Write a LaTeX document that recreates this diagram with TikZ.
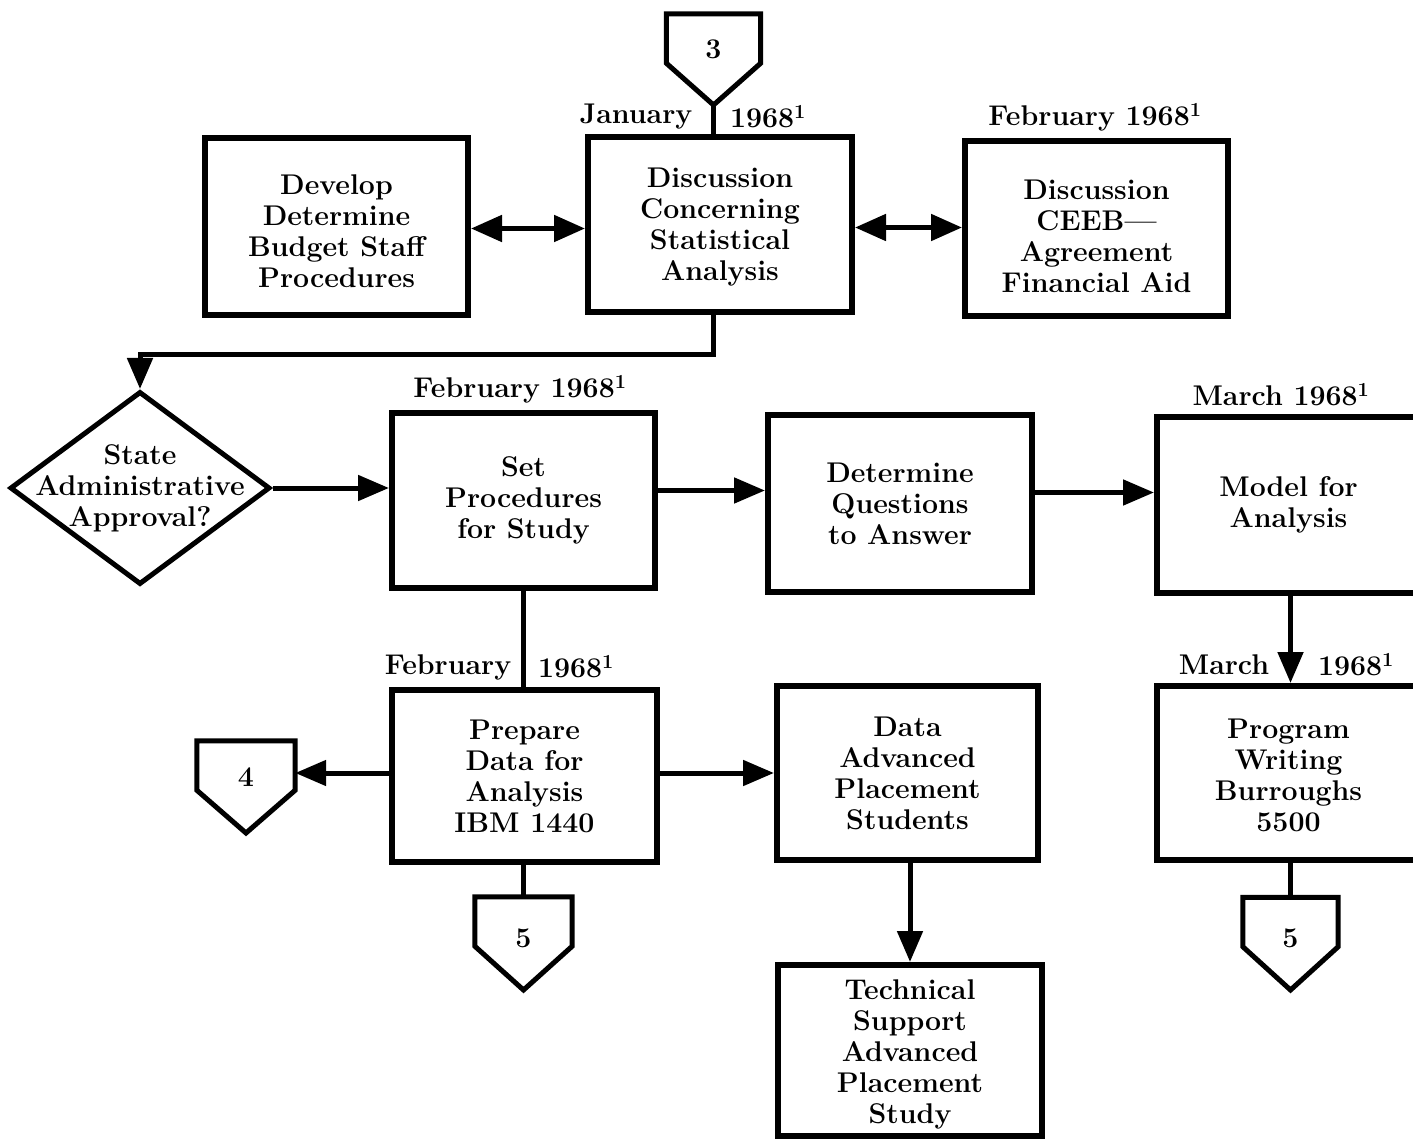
\documentclass[tikz,border=0pt]{standalone}
\usetikzlibrary{arrows.meta,shapes.geometric,calc}
\begin{document}
\begin{tikzpicture}[x=1pt,y=-1pt,
  every node/.style={font=\fontsize{28.5}{31}\selectfont\bfseries, align=center, inner sep=0pt},
  procbox/.style={draw, line width=6pt, minimum width=263pt, minimum height=175pt},
  decision/.style={draw, diamond, line width=5pt, minimum width=260pt, minimum height=193pt},
  offpage/.style={minimum width=94pt, minimum height=49pt},
  pent/.style={line width=5pt, line join=miter},
  flow/.style={line width=5pt},
  arrowline/.style={flow, -{Triangle[length=31pt,width=25pt]}},
  twoway/.style={flow, {Triangle[length=31pt,width=26pt]}-{Triangle[length=31pt,width=26pt]}},
  datelbl/.style={font=\fontsize{28.5}{30}\selectfont\bfseries},
  lowtext/.style={label={[yshift=-#1]center:{}}}
]
\useasboundingbox (0,0) rectangle (1413,1139);

% ---- top row ----
\node[offpage] (c3) at (713.5,38.5) {};
\coordinate (c3tip) at (713.5,105);
\draw[pent] (c3.north west) -- (c3.north east) -- (c3.south east) -- (c3tip) -- (c3.south west) -- cycle;
\node at ($(c3)+(0,11)$) {3};

\node[procbox, minimum width=263pt, minimum height=177pt,
      label={[yshift=-5pt]center:{Develop\\Determine\\Budget Staff\\Procedures}}] (dev) at (336.5,226.5) {};
\node[procbox, minimum width=264pt,
      label={[yshift=-3pt]center:{Discussion\\Concerning\\Statistical\\Analysis}}] (disc) at (720,224.5) {};
\node[procbox,
      label={[yshift=-8pt]center:{Discussion\\CEEB---\\Agreement\\Financial Aid}}] (ceeb) at (1096.5,228.5) {};

\node[datelbl] (janA) at (636,117) {January};
\node[datelbl] (janB) at (768,117) {1968\textsuperscript{1}};
\node[datelbl] (febA) at (1095,117) {February 1968\textsuperscript{1}};

% ---- middle row ----
\node[decision] (dia) at (140,488) {};
\node at (dia.center) {State\\Administrative\\Approval?};
\node[procbox] (set) at (523.5,500.5) {Set\\Procedures\\for Study};
\node[procbox, minimum width=264pt, minimum height=177pt] (detq) at (900,503.5)
  {Determine\\Questions\\to Answer};
\node[procbox, minimum height=176pt] (model) at (1288.5,505) {Model for\\Analysis};

\node[datelbl] (febB) at (520,389) {February 1968\textsuperscript{1}};
\node[datelbl] (marA) at (1281,395) {March 1968\textsuperscript{1}};

% ---- lower rows ----
\node[procbox, minimum width=265pt, minimum height=172pt] (prep) at (524.5,776)
  {Prepare\\Data for\\Analysis\\IBM 1440};
\node[procbox, minimum width=261pt, minimum height=174pt] (data) at (907.5,773)
  {Data\\Advanced\\Placement\\Students};
\node[procbox, minimum height=174pt,
      label={[yshift=-2pt]center:{Program\\Writing\\Burroughs\\5500}}] (prog) at (1288.5,773) {};
\node[procbox, minimum width=264pt, minimum height=171pt,
      label={[yshift=-4pt]center:{Technical\\Support\\Advanced\\Placement\\Study}}] (tech) at (910,1050.5) {};

\node[datelbl] (febC) at (448,667) {February};
\node[datelbl] (febD) at (576,667) {1968\textsuperscript{1}};
\node[datelbl] (marB) at (1224,665) {March};
\node[datelbl] (marC) at (1356,665) {1968\textsuperscript{1}};

% off-page connectors
\node[offpage, minimum width=98pt] (c4) at (246,765.5) {};
\coordinate (c4tip) at (246,833);
\draw[pent] (c4.north west) -- (c4.north east) -- (c4.south east) -- (c4tip) -- (c4.south west) -- cycle;
\node at ($(c4)+(0,12)$) {4};

\node[offpage, minimum width=97pt] (c5a) at (523.5,921.5) {};
\coordinate (c5atip) at (523.5,990);
\draw[pent] (c5a.north west) -- (c5a.north east) -- (c5a.south east) -- (c5atip) -- (c5a.south west) -- cycle;
\node at ($(c5a)+(0,17)$) {5};

\node[offpage, minimum width=95pt] (c5b) at (1290.5,922) {};
\coordinate (c5btip) at (1290.5,990);
\draw[pent] (c5b.north west) -- (c5b.north east) -- (c5b.south east) -- (c5btip) -- (c5b.south west) -- cycle;
\node at ($(c5b)+(0,16)$) {5};

% ---- connectors ----
\draw[flow] (c3tip) -- (c3tip |- disc.north);
\draw[twoway] ([yshift=-2pt]dev.east) -- ([yshift=-2pt]dev.east -| disc.west);
\draw[twoway] ([yshift=-3pt]disc.east) -- ([yshift=-3pt]disc.east -| ceeb.west);
\draw[arrowline] (disc.south -| c3tip) -- ++(0,40) -| (dia.north);
\draw[arrowline] (dia.east) -- (dia.east -| set.west);
\draw[arrowline] ([yshift=10pt]set.east) -- ([yshift=10pt]set.east -| detq.west);
\draw[arrowline] ([yshift=11pt]detq.east) -- ([yshift=11pt]detq.east -| model.west);
\draw[arrowline] ([xshift=2pt]model.south) -- ([xshift=2pt]model.south |- prog.north);
\draw[flow] (set.south) -- (set.south |- prep.north);
\draw[arrowline] ([yshift=3pt]prep.west) -- ([yshift=3pt]prep.west -| c4.east);
\draw[arrowline] ([yshift=3pt]prep.east) -- ([yshift=3pt]prep.east -| data.west);
\draw[flow] (prep.south -| c5a) -- (c5a.north);
\draw[arrowline] (tech.north |- data.south) -- (tech.north);
\draw[flow] (prog.south -| c5b) -- (c5b.north);
\end{tikzpicture}
\end{document}
